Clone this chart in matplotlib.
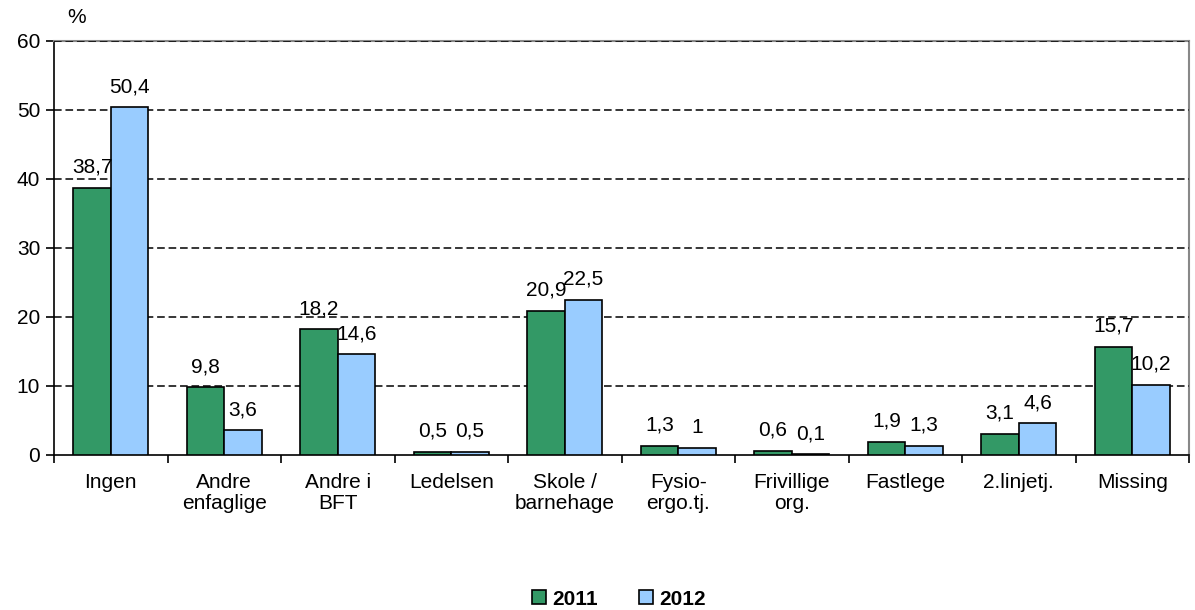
import matplotlib
matplotlib.use("Agg")
import matplotlib.pyplot as plt
import numpy as np

plt.rcParams["font.family"] = ["Liberation Sans", "DejaVu Sans"]

categories = ["Ingen", "Andre\nenfaglige", "Andre i\nBFT", "Ledelsen", "Skole /\nbarnehage",
              "Fysio-\nergo.tj.", "Frivillige\norg.", "Fastlege", "2.linjetj.", "Missing"]
v2011 = [38.7, 9.8, 18.2, 0.5, 20.9, 1.3, 0.6, 1.9, 3.1, 15.7]
v2012 = [50.4, 3.6, 14.6, 0.5, 22.5, 1.0, 0.1, 1.3, 4.6, 10.2]
labels2011 = ["38,7", "9,8", "18,2", "0,5", "20,9", "1,3", "0,6", "1,9", "3,1", "15,7"]
labels2012 = ["50,4", "3,6", "14,6", "0,5", "22,5", "1", "0,1", "1,3", "4,6", "10,2"]

FS = 15

fig = plt.figure(figsize=(11.95, 6.1), dpi=100)
ax = fig.add_axes([0.0452, 0.2541, 0.9498, 0.6787])

x = np.arange(len(categories))
w = 0.33
b1 = ax.bar(x - w / 2, v2011, w, color="#339966", edgecolor="black", lw=1.2, label="2011", zorder=3)
b2 = ax.bar(x + w / 2, v2012, w, color="#99CCFF", edgecolor="black", lw=1.2, label="2012", zorder=3)
ax.bar_label(b1, labels=labels2011, padding=8, fontsize=FS)
ax.bar_label(b2, labels=labels2012, padding=8, fontsize=FS)

ax.set_xlim(-0.5, len(categories) - 0.5)
ax.set_ylim(0, 60)
ax.set_yticks(range(0, 61, 10))
ax.set_xticks(x)
ax.set_xticklabels(categories, fontsize=FS, linespacing=1.1)
ax.set_xticks(np.arange(-0.5, len(categories), 1), minor=True)
ax.tick_params(axis="x", which="major", length=0, pad=13)
ax.tick_params(axis="x", which="minor", length=6, width=1.2, direction="out")
ax.tick_params(axis="y", labelsize=FS, length=6, width=1.2, direction="out", pad=4)
for s in ["top", "right"]:
    ax.spines[s].set_color("#888888")
    ax.spines[s].set_linewidth(1.5)
for y in range(10, 61, 10):
    ax.axhline(y, color="black", ls=(0, (5, 2.5)), lw=1.1, zorder=2.6)
for s in ["left", "bottom"]:
    ax.spines[s].set_linewidth(1.2)
ax.text(0.012, 1.035, "%", transform=ax.transAxes, fontsize=FS, ha="left", va="bottom")

fig.legend(handles=[b1, b2], loc="center", bbox_to_anchor=(0.518, 0.018), ncol=2, frameon=False,
           prop={"weight": "bold", "size": FS}, handlelength=0.65, handleheight=0.65,
           handletextpad=0.3, columnspacing=2.0)

fig.savefig("out.png", dpi=100)
